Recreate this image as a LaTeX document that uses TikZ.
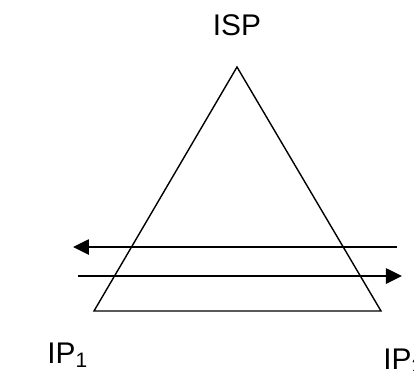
\documentclass[tikz,border=0pt]{standalone}
\usepackage{fontspec}
\setmainfont{Liberation Sans}
\usetikzlibrary{arrows.meta, positioning}

\begin{document}
\begin{tikzpicture}[x=0.02cm, y=-0.02cm,
  lbl/.style={inner sep=0pt, font=\fontsize{17}{20}\selectfont},
  tri/.style={draw, line width=0.8pt, line join=miter},
  e/.style={-{Triangle[length=0.32cm, width=0.3cm]}, line width=1.5pt}]
  \useasboundingbox (0,0) rectangle (414,370);
  % triangle corners
  \coordinate (top) at (237,67);
  \coordinate (bl)  at (94,311);
  \coordinate (br)  at (381,311);
  \draw[tri] (top) -- (bl) -- (br) -- cycle;
  % arrow ends
  \coordinate (a1) at (397,247);
  \coordinate (a2) at (73,247);
  \coordinate (b1) at (78,276);
  \coordinate (b2) at (402,276);
  \draw[e] (a1) -- (a2);
  \draw[e] (b1) -- (b2);
  % labels
  \node[lbl, anchor=base] (isp) at (237,35) {ISP};
  \node[lbl, anchor=base west] (ip1) at (47,363) {IP\textsubscript{1}};
  \node[lbl, anchor=base west] (ip2) at (383,369) {IP\textsubscript{2}};
\end{tikzpicture}
\end{document}
